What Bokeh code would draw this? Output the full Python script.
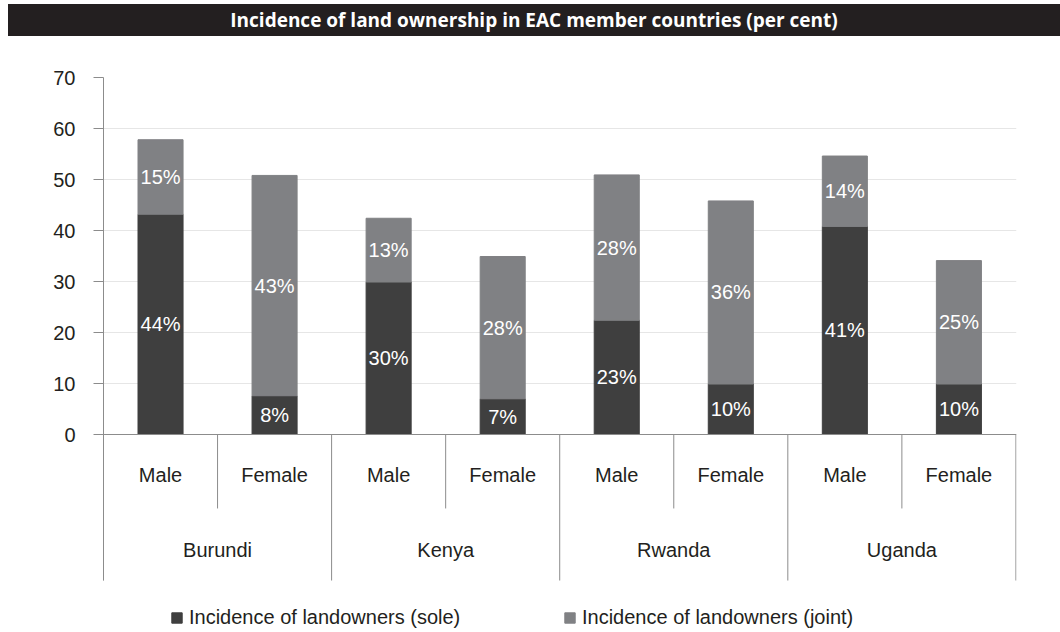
import numpy as np
from bokeh.plotting import figure
from bokeh.models import (ColumnDataSource, Range1d, FixedTicker, Span, Legend, LegendItem, Div)
from bokeh.layouts import column
from bokeh.core.properties import value
from bokeh.embed import file_html
from bokeh.resources import INLINE

# ---------------- data ----------------
title_text = "Incidence of land ownership in EAC member countries (per cent)"
countries = ["Burundi", "Kenya", "Rwanda", "Uganda"]
sexes = ["Male", "Female"]
sole = [43.2, 7.6, 29.9, 7.0, 22.4, 9.9, 40.8, 9.9]
joint = [14.6, 43.2, 12.5, 27.9, 28.5, 35.9, 13.8, 24.2]
sole_labels = ["44%", "8%", "30%", "7%", "23%", "10%", "41%", "10%"]
joint_labels = ["15%", "43%", "13%", "28%", "28%", "36%", "14%", "25%"]
series_names = ["Incidence of landowners (sole)", "Incidence of landowners (joint)"]
y_ticks = [0, 10, 20, 30, 40, 50, 60, 70]

# ---------------- styles ----------------
FONT = value("Liberation Sans")
TXT = "#231f20"
AXIS = "#8c8c8c"
C_SOLE = "#3f3f3f"
C_JOINT = "#808184"
FS = "20px"
Y_MIN = -38.82
Y_BOTTOM = -28.63
SEP_SHORT = -14.5
LBL_SEX_Y = -8.0
LBL_CTRY_Y = -22.7

W = 1060

# ---------------- title band ----------------
title = Div(text=title_text, width=1052, height=32, margin=(4, 0, 0, 8),
            styles={"background-color": "#231f20", "color": "white",
                    "font-family": "'Open Sans'", "font-weight": "bold",
                    "font-size": "19px", "text-align": "center",
                    "line-height": "32px", "white-space": "nowrap"})

# ---------------- main chart ----------------
n = len(sole)
xs = np.arange(n) + 0.5
sole_a = np.array(sole)
joint_a = np.array(joint)
sex_labels = [sexes[i % 2] for i in range(n)]

src = ColumnDataSource(dict(x=xs, sole=sole_a, joint=joint_a))

p = figure(width=W, height=596, output_backend="svg", toolbar_location=None,
           x_range=Range1d(0, 8.005), y_range=Range1d(Y_MIN, 70),
           x_axis_location=None,
           min_border_left=103, min_border_right=44, min_border_top=41, min_border_bottom=0)
p.outline_line_color = None
p.background_fill_color = "white"
p.xgrid.visible = False
p.ygrid.ticker = FixedTicker(ticks=[t_ for t_ in y_ticks if t_ > 0])
p.ygrid.grid_line_color = "#e6e6e6"
p.ygrid.grid_line_width = 1

yax = p.yaxis[0]
yax.ticker = FixedTicker(ticks=y_ticks)
yax.bounds = (Y_BOTTOM, 70)
yax.axis_line_color = AXIS
yax.major_tick_line_color = AXIS
yax.minor_tick_line_color = None
yax.major_tick_out = 10
yax.major_tick_in = 0
yax.major_label_standoff = 18
yax.major_label_text_font = "Liberation Sans"
yax.major_label_text_font_size = FS
yax.major_label_text_color = TXT

p.add_layout(Span(location=0, dimension="width", line_color=AXIS, line_width=1))

rs = p.vbar_stack(["sole", "joint"], x="x", width=0.395, color=[C_SOLE, C_JOINT],
                  line_color=[C_SOLE, C_JOINT], source=src)

# segment labels
lab_src = ColumnDataSource(dict(
    x=np.concatenate([xs, xs]),
    y=np.concatenate([sole_a / 2, sole_a + joint_a / 2]),
    t=sole_labels + joint_labels))
p.text(x="x", y="y", text="t", source=lab_src, text_align="center", text_baseline="middle",
       text_color="white", text_font=FONT, text_font_size=FS)

# category axis (two levels)
sep_inner = [2 * i + 1 for i in range(len(countries))]
sep_outer = [2 * i for i in range(len(countries) + 1)]
p.segment(x0=sep_inner, y0=[0] * len(sep_inner), x1=sep_inner, y1=[SEP_SHORT] * len(sep_inner),
          line_color=AXIS, line_width=1)
p.segment(x0=sep_outer, y0=[0] * len(sep_outer), x1=sep_outer, y1=[Y_BOTTOM] * len(sep_outer),
          line_color=AXIS, line_width=1)

p.text(x=xs, y=[LBL_SEX_Y] * n, text=sex_labels, text_align="center", text_baseline="middle",
       text_color=TXT, text_font=FONT, text_font_size=FS)
p.text(x=[2 * i + 1 for i in range(len(countries))], y=[LBL_CTRY_Y] * len(countries),
       text=countries, text_align="center", text_baseline="middle",
       text_color=TXT, text_font=FONT, text_font_size=FS)

legend = Legend(items=[LegendItem(label=series_names[0], renderers=[rs[0]]),
                       LegendItem(label=series_names[1], renderers=[rs[1]])],
                orientation="horizontal", location=(67, 3),
                glyph_width=13, glyph_height=13, label_standoff=6, label_width=374,
                label_height=20, spacing=0, padding=0, margin=0,
                border_line_color=None, background_fill_alpha=0,
                label_text_font="Liberation Sans", label_text_font_size=FS,
                label_text_color=TXT, label_text_baseline="middle")
p.add_layout(legend, "center")

layout = column(title, p, spacing=0)
open("out.html", "w").write(file_html(layout, INLINE))
